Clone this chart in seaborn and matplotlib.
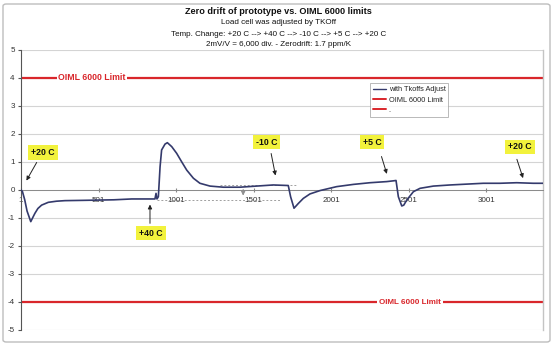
import matplotlib
matplotlib.use("Agg")
import matplotlib.pyplot as plt
import seaborn as sns
import pandas as pd
from matplotlib.lines import Line2D
from matplotlib.patches import FancyBboxPatch

# ---- data ----
sample_idx = [1, 10, 25, 40, 64, 80, 91, 110, 134, 177, 230, 285, 400, 500, 600, 715,
              800, 865, 872, 878, 887, 898, 908, 930, 945, 973, 1005, 1037, 1070, 1113,
              1155, 1220, 1306, 1414, 1521, 1628, 1725, 1740, 1762, 1790, 1822, 1865,
              1930, 2037, 2145, 2252, 2360, 2407, 2420, 2435, 2457, 2470, 2489, 2532,
              2575, 2661, 2769, 2876, 2983, 3090, 3198, 3305, 3368]
drift = [0.0, -0.05, -0.35, -0.75, -1.13, -0.95, -0.83, -0.66, -0.54, -0.44, -0.40, -0.38,
         -0.37, -0.36, -0.35, -0.32, -0.32, -0.32, -0.12, -0.32, -0.24, 0.83, 1.43, 1.64,
         1.69, 1.55, 1.31, 1.01, 0.71, 0.42, 0.24, 0.14, 0.10, 0.10, 0.14, 0.18, 0.16,
         -0.24, -0.65, -0.48, -0.30, -0.14, -0.02, 0.12, 0.20, 0.26, 0.30, 0.33, 0.34,
         -0.24, -0.57, -0.54, -0.36, -0.06, 0.06, 0.14, 0.18, 0.21, 0.24, 0.24, 0.26,
         0.24, 0.24]
limit_upper = 4
limit_lower = -4
x_ticks = [1, 501, 1001, 1501, 2001, 2501, 3001]
y_ticks = [-5, -4, -3, -2, -1, 0, 1, 2, 3, 4, 5]

title_lines = ["Zero drift of prototype vs. OIML 6000 limits",
               "Load cell was adjusted by TKOff",
               "Temp. Change: +20 C --> +40 C --> -10 C --> +5 C --> +20 C",
               "2mV/V = 6,000 div. - Zerodrift: 1.7 ppm/K"]
legend_labels = ["with Tkoffs Adjust", "OIML 6000 Limit", "."]

# annotations: label, text position, arrow tail, arrow head
ann_labels = ["+20 C", "+40 C", "-10 C", "+5 C", "+20 C"]
ann_text_xy = [(143, 1.34), (840, -1.54), (1586, 1.71), (2265, 1.71), (3220, 1.54)]
ann_tail_xy = [(111, 1.07), (833, -1.29), (1611, 1.40), (2321, 1.29), (3194, 1.19)]
ann_head_xy = [(27, 0.25), (833, -0.42), (1646, 0.42), (2366, 0.48), (3245, 0.33)]

df = pd.DataFrame({"sample": sample_idx, "drift": drift})

sns.set_style("white")
plt.rcParams["font.family"] = ["Liberation Sans", "DejaVu Sans"]

fig = plt.figure(figsize=(5.54, 3.45), dpi=100)
ax = fig.add_axes([21 / 554, 1 - 330 / 345, 522 / 554, 280 / 345])

navy = "#343a6c"
red = "#d9262b"

# grid
for yv in y_ticks:
    ax.axhline(yv, color="#d4d4d4", lw=0.8, zorder=0)

# limits
ax.axhline(limit_upper, color=red, lw=1.6, zorder=2)
ax.axhline(limit_lower, color=red, lw=1.6, zorder=2)

# gray dashed markers
ax.plot([878, 1672], [-0.36, -0.36], ls=(0, (2, 2)), color="#a0a0a0", lw=0.7, zorder=1)
ax.plot([1285, 1781], [0.18, 0.18], ls=(0, (2, 2)), color="#a0a0a0", lw=0.7, zorder=1)
ax.annotate("", xy=(1434, -0.30), xytext=(1434, 0.12),
            arrowprops=dict(arrowstyle="-|>", color="#909090", lw=0.7, mutation_scale=6),
            zorder=1)

sns.lineplot(data=df, x="sample", y="drift", ax=ax, color=navy, lw=1.2, zorder=3)

# spines first (set_position resets tick properties)
ax.spines["bottom"].set_position(("data", 0))
ax.spines["bottom"].set_color("#8a8a8a")
ax.spines["bottom"].set_linewidth(0.7)
ax.spines["left"].set_color("#555555")
ax.spines["left"].set_linewidth(0.8)
ax.spines["top"].set_visible(False)
ax.spines["right"].set_color("#c4c4c4")
ax.spines["right"].set_linewidth(1.0)

ax.set_xlim(1, 3368)
ax.set_ylim(-5, 5)
ax.set_xlabel("")
ax.set_ylabel("")

ax.set_yticks(y_ticks)
ax.set_yticklabels([str(v) for v in y_ticks], fontsize=5.8, color="#333333")
ax.set_xticks(x_ticks)
ax.set_xticklabels([str(v) for v in x_ticks], fontsize=5.8, color="#333333")
ax.tick_params(axis="y", length=2, pad=2.5, color="#555555", left=True, labelsize=5.8)
ax.tick_params(axis="x", length=3, direction="inout", pad=3.5, color="#888888",
               bottom=True, labelsize=5.8)

# limit labels
ax.text(459, 4, "OIML 6000 Limit", color=red, fontsize=6.3, fontweight="bold",
        ha="center", va="center", zorder=4,
        bbox=dict(facecolor="white", edgecolor="none", pad=1.2))
ax.text(2510, -4, "OIML 6000 Limit", color=red, fontsize=5.8, fontweight="bold",
        ha="center", va="center", zorder=4,
        bbox=dict(facecolor="white", edgecolor="none", pad=1.2))

# temperature annotations
for lab, txy, tail, head in zip(ann_labels, ann_text_xy, ann_tail_xy, ann_head_xy):
    ax.annotate("", xy=head, xytext=tail,
                arrowprops=dict(arrowstyle="-|>", color="#222222", lw=0.7,
                                mutation_scale=6), zorder=5)
    ax.text(txy[0], txy[1], lab, fontsize=6.3, fontweight="bold", ha="center",
            va="center", color="#111111", zorder=6,
            bbox=dict(facecolor="#f2f23c", edgecolor="none", pad=2.0))

# legend
handles = [Line2D([], [], color=navy, lw=1.0),
           Line2D([], [], color=red, lw=1.4),
           Line2D([], [], color=red, lw=1.4)]
leg = ax.legend(handles, legend_labels, loc="upper left", bbox_to_anchor=(0.669, 0.882),
                fontsize=5.3, frameon=True, fancybox=False, handlelength=1.8,
                handletextpad=0.3, borderpad=0.4, labelspacing=0.45, borderaxespad=0)
leg.get_frame().set_edgecolor("#9a9a9a")
leg.get_frame().set_linewidth(0.6)

# titles
ys = [11, 23, 34, 45]
for i, (t, yp) in enumerate(zip(title_lines, ys)):
    fig.text(0.503, 1 - yp / 345, t, ha="center", va="center",
             fontsize=6.6 if i == 0 else 5.8,
             fontweight="bold" if i == 0 else "normal", color="#111111")

# outer chart border
fig.patches.append(FancyBboxPatch((3 / 554, 3 / 345), 547 / 554, 338 / 345,
                                  boxstyle="round,pad=0,rounding_size=0.006",
                                  transform=fig.transFigure, fill=False,
                                  edgecolor="#bdbdbd", lw=1.0))

fig.savefig("out.png", dpi=100, facecolor="white")
